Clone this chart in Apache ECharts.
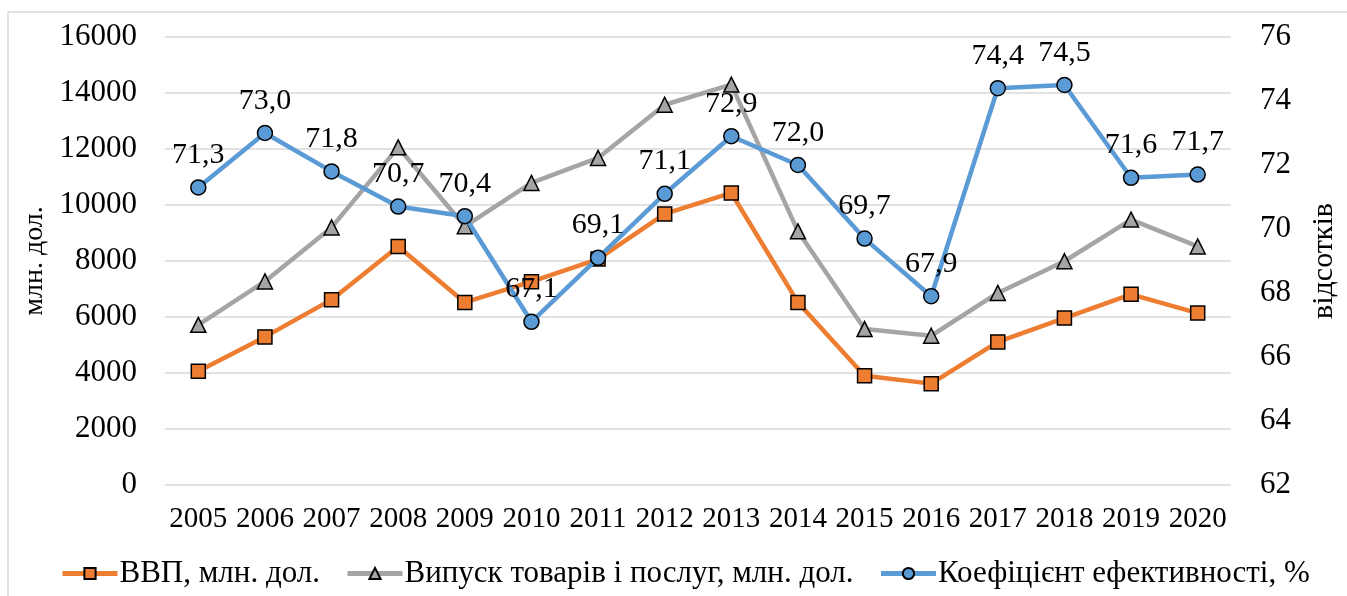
<!DOCTYPE html>
<html>
<head>
<meta charset="utf-8">
<script src="https://cdn.jsdelivr.net/npm/echarts@6/dist/echarts.min.js"></script>
<style>
  html, body { margin: 0; padding: 0; background: #fff; }
  #chart { width: 1347px; height: 596px; }
</style>
</head>
<body>
<div id="chart"></div>
<script>
// дані
var years = ['2005', '2006', '2007', '2008', '2009', '2010', '2011', '2012',
  '2013', '2014', '2015', '2016', '2017', '2018', '2019', '2020'];
var gdp = [4060, 5290, 6620, 8520, 6520, 7260, 8070, 9680,
  10430, 6520, 3900, 3620, 5110, 5960, 6810, 6140];
var output = [5720, 7270, 9200, 12060, 9240, 10790, 11680, 13580,
  14300, 9060, 5570, 5330, 6860, 7990, 9480, 8520];
var coef = [71.3, 73.0, 71.8, 70.7, 70.4, 67.1, 69.1, 71.1,
  72.9, 72.0, 69.7, 67.9, 74.4, 74.5, 71.6, 71.7];

var font = '"Liberation Serif"';

var chart = echarts.init(document.getElementById('chart'));
var option = {
  animation: false,
  textStyle: { fontFamily: font, color: '#000' },
  graphic: [{
    type: 'rect',
    shape: { x: 8, y: 12, width: 1400, height: 700 },
    style: { fill: 'none', stroke: '#d9d9d9', lineWidth: 1.5 },
    silent: true
  }],
  grid: { left: 165, right: 101, top: 37, bottom: 111 },
  legend: {
    left: 55,
    top: 553,
    itemWidth: 55,
    itemHeight: 14,
    itemGap: 25,
    lineStyle: { width: 5 },
    textStyle: { fontFamily: font, fontSize: 31, color: '#000', padding: [0, 0, 0, -3] },
    data: ['ВВП, млн. дол.', 'Випуск товарів і послуг, млн. дол.', 'Коефіцієнт ефективності, %']
  },
  xAxis: {
    type: 'category',
    data: years,
    axisLine: { show: false },
    axisTick: { show: false },
    axisLabel: { fontFamily: font, fontSize: 29, color: '#000', margin: 20, interval: 0 }
  },
  yAxis: [
    {
      type: 'value',
      min: 0, max: 16000, interval: 2000,
      name: 'млн. дол.',
      nameLocation: 'middle',
      nameGap: 108,
      nameRotate: 90,
      nameTextStyle: { fontFamily: font, fontSize: 28, color: '#000' },
      axisLine: { show: false },
      axisTick: { show: false },
      axisLabel: {
        fontFamily: font, fontSize: 31, color: '#000', margin: 28,
        formatter: function (v) { return String(v); }
      },
      splitLine: { lineStyle: { color: '#d9d9d9', width: 1.5 } }
    },
    {
      type: 'value',
      min: 62, max: 76, interval: 2,
      name: 'відсотків',
      nameLocation: 'middle',
      nameGap: 78,
      nameRotate: 90,
      nameTextStyle: { fontFamily: font, fontSize: 30, color: '#000' },
      axisLine: { show: false },
      axisTick: { show: false },
      axisLabel: { fontFamily: font, fontSize: 31, color: '#000', margin: 29 },
      splitLine: { show: false }
    }
  ],
  series: [
    {
      name: 'ВВП, млн. дол.',
      type: 'line',
      data: gdp,
      symbol: 'rect',
      symbolSize: 14,
      lineStyle: { color: '#ED7D31', width: 4.5 },
      itemStyle: { color: '#ED7D31', borderColor: '#000', borderWidth: 1.5 },
      z: 3
    },
    {
      name: 'Випуск товарів і послуг, млн. дол.',
      type: 'line',
      data: output,
      symbol: 'triangle',
      symbolSize: 15,
      lineStyle: { color: '#A5A5A5', width: 4.5 },
      itemStyle: { color: '#A5A5A5', borderColor: '#000', borderWidth: 1.5 },
      z: 2
    },
    {
      name: 'Коефіцієнт ефективності, %',
      type: 'line',
      yAxisIndex: 1,
      data: coef,
      symbol: 'circle',
      symbolSize: 15,
      lineStyle: { color: '#5B9BD5', width: 4.5 },
      itemStyle: { color: '#5B9BD5', borderColor: '#000', borderWidth: 1.5 },
      label: {
        show: true,
        position: 'top',
        distance: 9,
        fontFamily: font,
        fontSize: 30,
        color: '#000',
        formatter: function (p) { return p.value.toFixed(1).replace('.', ','); }
      },
      z: 4
    }
  ]
};
chart.setOption(option);
</script>
</body>
</html>
